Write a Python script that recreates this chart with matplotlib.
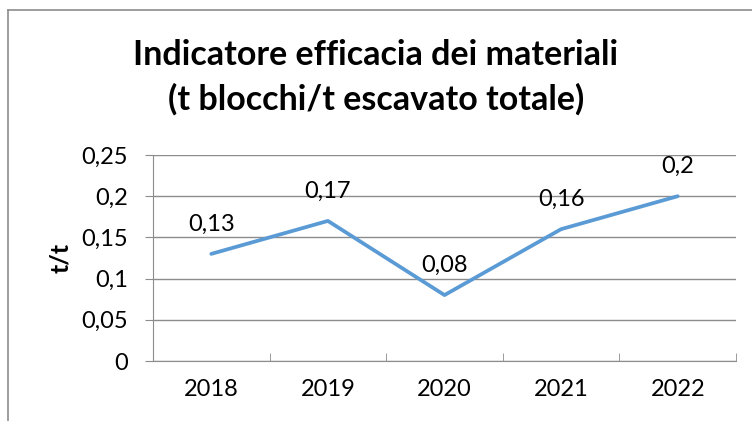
import matplotlib
matplotlib.use("Agg")
import matplotlib.pyplot as plt
from matplotlib.ticker import FixedLocator

years = ["2018", "2019", "2020", "2021", "2022"]
values = [0.13, 0.17, 0.08, 0.16, 0.2]
value_labels = ["0,13", "0,17", "0,08", "0,16", "0,2"]
y_ticks = [0, 0.05, 0.1, 0.15, 0.2, 0.25]
y_tick_labels = ["0", "0,05", "0,1", "0,15", "0,2", "0,25"]
title = "Indicatore efficacia dei materiali\n(t blocchi/t escavato totale)"
y_label = "t/t"

W, H = 752, 421
fig = plt.figure(figsize=(W / 100, H / 100), dpi=100)
font = "Lato"
grid_c = "#8c8c8c"
fs = 17

# chart border (left and top visible)
fig.add_artist(plt.Line2D([7.5 / W, 7.5 / W], [0, 1 - 10 / H], transform=fig.transFigure, color="#8c8c8c", lw=1.2))
fig.add_artist(plt.Line2D([7.5 / W, 1], [1 - 10 / H, 1 - 10 / H], transform=fig.transFigure, color="#8c8c8c", lw=1.2))

x0, x1 = 153, 736
y_top, y_bot = 155, 361
ax = fig.add_axes([x0 / W, 1 - y_bot / H, (x1 - x0) / W, (y_bot - y_top) / H])
xs = list(range(len(years)))
ax.plot(xs, values, color="#5B9BD5", lw=2.7, solid_capstyle="round")
ax.set_xlim(-0.5, len(years) - 0.5)
ax.set_ylim(0, 0.25)

ax.set_yticks(y_ticks)
ax.set_yticklabels(y_tick_labels, fontfamily=font, fontsize=fs)
ax.yaxis.grid(True, color=grid_c, lw=1)
ax.set_axisbelow(True)
ax.set_xticks(xs)
ax.set_xticklabels(years, fontfamily=font, fontsize=fs)
ax.xaxis.set_minor_locator(FixedLocator([i - 0.5 for i in range(len(years) + 1)]))
ax.tick_params(axis="x", which="major", length=0, pad=13)
ax.tick_params(axis="x", which="minor", length=6, color=grid_c, direction="in")
ax.tick_params(axis="y", length=6, color=grid_c, pad=12)
for s in ["top", "right"]:
    ax.spines[s].set_visible(False)
ax.spines["left"].set_color(grid_c)
ax.spines["bottom"].set_color(grid_c)

for x, v, lab in zip(xs, values, value_labels):
    ax.annotate(lab, (x, v), xytext=(0, 21.5), textcoords="offset points", ha="center", va="center",
                fontfamily=font, fontsize=fs)

ax.set_ylabel(y_label, fontfamily=font, fontsize=18, fontweight="bold", labelpad=7)
fig.text(376 / W, 1 - 77.5 / H, title, ha="center", va="center", fontfamily=font,
         fontsize=24.5, fontweight="bold", linespacing=1.45)

fig.savefig("out.png", dpi=100)
